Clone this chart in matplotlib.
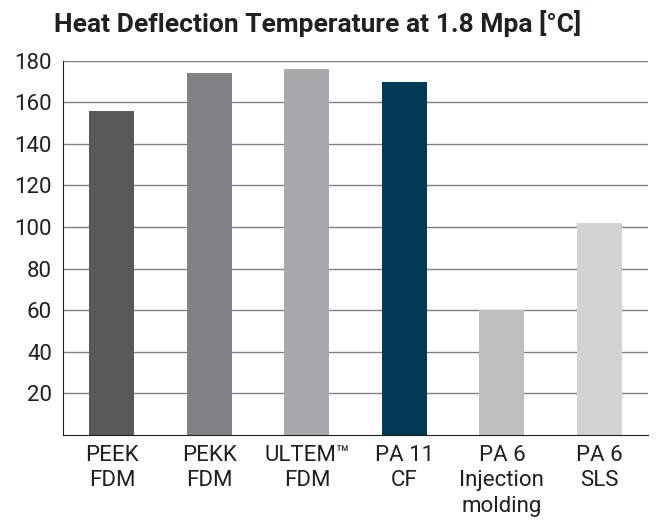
import matplotlib
matplotlib.use('Agg')
import matplotlib.pyplot as plt
import numpy as np

plt.rcParams['font.family'] = ['Roboto', 'DejaVu Sans']

# data
materials = ['PEEK\nFDM', 'PEKK\nFDM', 'ULTEM\u2122\nFDM', 'PA 11\nCF',
             'PA 6\nInjection\nmolding', 'PA 6\nSLS']
hdt = [156, 174, 176, 170, 60, 102]
colors = ['#58595b', '#808285', '#a7a9ac', '#023a55', '#bcbec0', '#d1d3d4']
yticks = [20, 40, 60, 80, 100, 120, 140, 160, 180]

fig = plt.figure(figsize=(6.58, 5.24), dpi=100)
ax = fig.add_axes([0.096, 0.170, 0.889, 0.714])

x = np.arange(len(materials))
ax.set_axisbelow(True)
ax.grid(axis='y', color='#808080', linewidth=1.0)
ax.bar(x, hdt, width=0.46, color=colors, zorder=2)

ax.set_xlim(-0.5, 5.5)
ax.set_ylim(0, 180)
ax.set_yticks(yticks)
ax.set_yticklabels([str(v) for v in yticks], fontsize=16, color='#231f20')
ax.set_xticks(x)
ax.set_xticklabels(materials, fontsize=16, color='#231f20', linespacing=1.3)
ax.tick_params(axis='both', length=0)
ax.tick_params(axis='y', pad=8)
ax.tick_params(axis='x', pad=7)

for s in ['top', 'right']:
    ax.spines[s].set_visible(False)
ax.spines['left'].set_color('#231f20')
ax.spines['bottom'].set_color('#231f20')

fig.text(0.4825, 0.939, 'Heat Deflection Temperature at 1.8 Mpa [\u00b0C]',
         ha='center', va='baseline', fontsize=19, fontweight='bold', color='#231f20')

plt.savefig('out.png', dpi=100)
